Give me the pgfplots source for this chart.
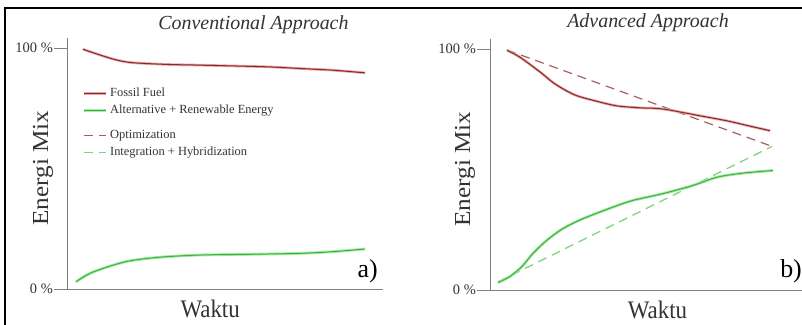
\documentclass[border=0pt]{standalone}
\usepackage{fontspec}
\setmainfont{Liberation Serif}
\usepackage{graphicx}
\usepackage{pgfplots}
\pgfplotsset{compat=1.18}
\definecolor{redcore}{HTML}{8A2828}
\definecolor{redhalo}{HTML}{E8A6A6}
\definecolor{greencore}{HTML}{3FAF3F}
\definecolor{greenhalo}{HTML}{A6EBA6}
\definecolor{reddash}{HTML}{A35E63}
\definecolor{greendash}{HTML}{7FD67F}
\definecolor{axgray}{HTML}{808080}
\definecolor{txt}{HTML}{333333}
\tikzset{
  ylab/.style={rotate=90, anchor=base, inner sep=0pt, font=\fontsize{23}{26}\selectfont, text=txt},
}
\pgfplotsset{
  panel/.style={
    scale only axis, width=316bp, height=250.6bp,
    ymin=0, ymax=104,
    axis x line=bottom, axis y line=left,
    axis line style={-, draw=axgray, line width=0.9bp},
    ytick={0,100}, yticklabels={0 \%,100 \%},
    xtick=\empty,
    tick align=outside, major tick length=13bp,
    tick style={draw=axgray, line width=0.9bp},
    yticklabel style={font=\fontsize{14.5}{16}\selectfont, text=txt, inner sep=1bp},
    xlabel style={anchor=north, yshift=-7bp, font=\fontsize{23}{26}\selectfont, text=txt},
    title style={anchor=base, font=\itshape\fontsize{20}{22}\selectfont, text=txt},
    clip=false,
    legend image code/.code={\draw[#1] (0bp,0bp) -- (22bp,0bp);},
  },
  fossil/.style={draw=redcore, line width=1bp, preaction={draw=redhalo, line width=2.6bp}},
  renew/.style={draw=greencore, line width=1bp, preaction={draw=greenhalo, line width=2.8bp}},
  optim/.style={draw=reddash, line width=1.2bp, dash pattern=on 9bp off 6bp},
  integ/.style={draw=greendash, line width=1.3bp, dash pattern=on 9bp off 6bp},
}
\begin{document}
\begin{tikzpicture}
\useasboundingbox (0bp,0bp) rectangle (802bp,325bp);
\clip (0bp,0bp) rectangle (802bp,325bp);
\fill[white] (0bp,0bp) rectangle (802bp,325bp);
% ---------- panel a ----------
\begin{axis}[panel, at={(67bp,36bp)}, anchor=south west,
  xmin=67, xmax=383,
  title={Conventional Approach},
  title style={at={(axis description cs:0.59,1)}, yshift=3bp},
  xlabel={\scalebox{1}[1.1]{Waktu}},
  xlabel style={at={(axis description cs:0.453,0)}},
  legend cell align=left,
  legend style={at={(axis description cs:0.04,0.818)}, anchor=north west,
    draw=none, fill=none, font=\fontsize{12.5}{14}\selectfont, text=txt,
    row sep=2bp, column sep=1bp,
    nodes={inner sep=1.5bp, text height=9bp, text depth=3bp}},
]
\addplot[fossil, smooth] coordinates {
  (83,99.5) (100,97.1) (117,95.0) (133,93.9) (167,93.2) (200,92.9)
  (267,92.2) (300,91.5) (333,90.8) (365,89.7)};
\addlegendentry{Fossil Fuel}
\addplot[renew, smooth] coordinates {
  (76,3.0) (90,6.5) (110,9.5) (130,11.7) (160,13.2) (200,14.1)
  (250,14.4) (300,14.8) (333,15.5) (365,16.6)};
\addlegendentry{Alternative + Renewable Energy}
\addlegendimage{empty legend}
\addlegendentry[text height=3bp, text depth=0bp]{}
\addlegendimage{optim}
\addlegendentry{Optimization}
\addlegendimage{integ}
\addlegendentry{Integration + Hybridization}
\node[ylab] at (axis description cs:-0.060,0.483) {\scalebox{1.1}[1]{Energi Mix}};
\node[anchor=base east, font=\fontsize{26}{28}\selectfont, inner sep=0pt]
  at (axis description cs:0.984,0.044) {a)};
\end{axis}
% ---------- panel b ----------
\begin{axis}[panel, at={(490bp,35bp)}, anchor=south west,
  xmin=490, xmax=806,
  title={Advanced Approach},
  title style={at={(axis description cs:0.5,1)}, yshift=6bp},
  xlabel={\scalebox{1}[1.1]{Waktu}},
  xlabel style={at={(axis description cs:0.53,0)}},
]
\addplot[optim] coordinates {(507,99.6) (772,59.6)};
\addplot[integ] coordinates {(498,3.4) (772,59.6)};
\addplot[fossil, smooth] coordinates {
  (507,99.5) (520,96.6) (540,90.5) (553,86.1) (565,83.0)
  (577,80.6) (597,78.3) (617,76.4) (640,75.6) (663,75.1) (700,72.3)
  (727,70.2) (750,68.0) (770,66.1)};
\addplot[renew, smooth] coordinates {
  (498,3.1) (510,5.6) (522,9.8) (533,15.2) (547,20.7) (563,25.5) (583,29.6)
  (613,34.4) (633,37.2) (663,40.0) (693,43.4) (717,46.8) (743,48.5)
  (773,49.6)};
\node[ylab] at (axis description cs:-0.063,0.483) {\scalebox{1.1}[1]{Energi Mix}};
\node[anchor=base west, font=\fontsize{26}{28}\selectfont, inner sep=0pt]
  at (axis description cs:0.918,0.048) {b)};
\end{axis}
\draw[line width=1.6bp, black] (5bp,0bp) -- (5bp,317bp) -- (802bp,317bp);
\end{tikzpicture}
\end{document}
